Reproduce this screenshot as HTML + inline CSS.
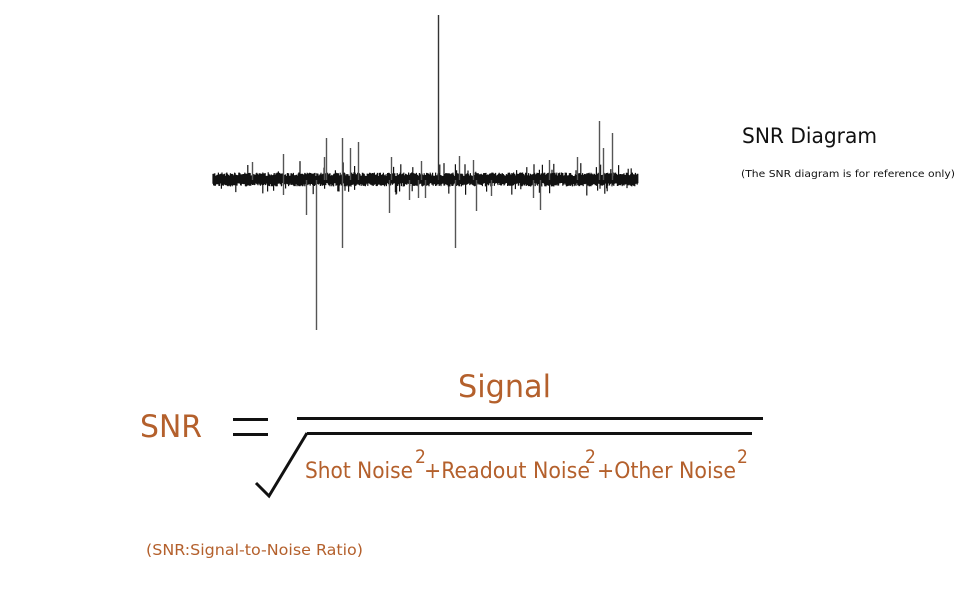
<!DOCTYPE html>
<html><head><meta charset="utf-8"><style>
html,body{margin:0;padding:0;background:#fff;}
svg{display:block;}
.o{fill:#b4602c;font-family:"DejaVu Sans Condensed","DejaVu Sans","Liberation Sans",sans-serif;}
.k{fill:#111;font-family:"DejaVu Sans Condensed","DejaVu Sans","Liberation Sans",sans-serif;}
</style></head><body>
<svg id="s" width="970" height="600" viewBox="0 0 970 600" xmlns="http://www.w3.org/2000/svg">
<rect width="970" height="600" fill="#fff"/>
<rect x="213" y="176" width="425" height="7" fill="#111"/>
<g id="noise"></g>
<g stroke="#555" stroke-width="1.4">
<line x1="438.5" y1="15" x2="438.5" y2="180" stroke="#333"/>
<line x1="599.5" y1="121" x2="599.5" y2="180"/>
<line x1="612.5" y1="133" x2="612.5" y2="180"/>
<line x1="603.5" y1="148" x2="603.5" y2="180"/>
<line x1="326.5" y1="138" x2="326.5" y2="180"/>
<line x1="342.5" y1="138" x2="342.5" y2="180"/>
<line x1="358.5" y1="142" x2="358.5" y2="180"/>
<line x1="350.5" y1="148" x2="350.5" y2="180"/>
<line x1="283.5" y1="154" x2="283.5" y2="180"/>
<line x1="324.5" y1="157" x2="324.5" y2="180"/>
<line x1="391.5" y1="157" x2="391.5" y2="180"/>
<line x1="421.5" y1="161" x2="421.5" y2="180"/>
<line x1="459.5" y1="156" x2="459.5" y2="180"/>
<line x1="473.5" y1="160" x2="473.5" y2="180"/>
<line x1="549.5" y1="160" x2="549.5" y2="180"/>
<line x1="577.5" y1="157" x2="577.5" y2="180"/>
<line x1="252.5" y1="162" x2="252.5" y2="180"/>
<line x1="316.5" y1="180" x2="316.5" y2="330"/>
<line x1="342.5" y1="180" x2="342.5" y2="248"/>
<line x1="455.5" y1="180" x2="455.5" y2="248"/>
<line x1="306.5" y1="180" x2="306.5" y2="215"/>
<line x1="389.5" y1="180" x2="389.5" y2="213"/>
<line x1="476.5" y1="180" x2="476.5" y2="211"/>
<line x1="540.5" y1="180" x2="540.5" y2="210"/>
<line x1="409.5" y1="180" x2="409.5" y2="200"/>
<line x1="418.5" y1="180" x2="418.5" y2="198"/>
<line x1="425.5" y1="180" x2="425.5" y2="198"/>
<line x1="533.5" y1="180" x2="533.5" y2="198"/>
<line x1="491.5" y1="180" x2="491.5" y2="196"/>
<line x1="283.5" y1="180" x2="283.5" y2="195"/>
</g>
<text class="k" x="742" y="143" font-size="21" textLength="135" lengthAdjust="spacingAndGlyphs">SNR Diagram</text>
<text class="k" x="741" y="177" font-size="10" textLength="214" lengthAdjust="spacingAndGlyphs">(The SNR diagram is for reference only)</text>
<text class="o" x="140" y="437" font-size="31" textLength="62" lengthAdjust="spacingAndGlyphs">SNR</text>
<rect x="233" y="418" width="35" height="3" fill="#111"/>
<rect x="233" y="433" width="35" height="3" fill="#111"/>
<text class="o" x="458" y="397" font-size="31" textLength="93" lengthAdjust="spacingAndGlyphs">Signal</text>
<rect x="297" y="417" width="466" height="3" fill="#111"/>
<rect x="307" y="432" width="445" height="3" fill="#111"/>
<polyline points="256,483 269,496 307,433" fill="none" stroke="#111" stroke-width="3"/>
<text class="o" x="305" y="478" font-size="22" textLength="108" lengthAdjust="spacingAndGlyphs">Shot Noise</text>
<text class="o" x="415" y="463" font-size="19">2</text>
<text class="o" x="424" y="478" font-size="22" textLength="166" lengthAdjust="spacingAndGlyphs">+Readout Noise</text>
<text class="o" x="585" y="463" font-size="19">2</text>
<text class="o" x="597" y="478" font-size="22" textLength="139" lengthAdjust="spacingAndGlyphs">+Other Noise</text>
<text class="o" x="737" y="463" font-size="19">2</text>
<text class="o" x="146" y="555" font-size="15" textLength="217" lengthAdjust="spacingAndGlyphs">(SNR:Signal-to-Noise Ratio)</text>
</svg>
<script>
(function(){
var s=12345;function r(){s=(s*1103515245+12345)%2147483648;return s/2147483648;}
var d="";
for(var x=213;x<638;x+=0.6){
 var a=3+r()*4,b=3+r()*4;
 if(r()<0.07)a+=r()*12;
 if(r()<0.06)b+=r()*10;
 d+="M"+x.toFixed(1)+" "+(179.5-a).toFixed(1)+"V"+(179.5+b).toFixed(1);
}
var p=document.createElementNS("http://www.w3.org/2000/svg","path");
p.setAttribute("d",d);p.setAttribute("stroke","#111");p.setAttribute("stroke-width","1.2");
document.getElementById("noise").appendChild(p);
})();
</script>
</body></html>
